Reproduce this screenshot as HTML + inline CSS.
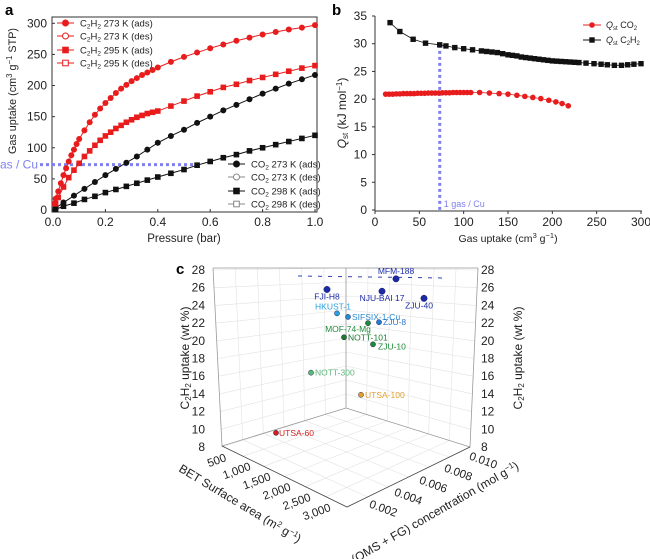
<!DOCTYPE html>
<html><head><meta charset="utf-8"><style>
body{margin:0;background:#fff;width:650px;height:559px;overflow:hidden}
svg{display:block;font-family:"Liberation Sans",sans-serif}
</style></head><body>
<svg id="fig" width="650" height="559" viewBox="0 0 650 559"></svg>
<script>
// ---------- Panel a data ----------
const aP273 = [0.005,0.01,0.02,0.03,0.04,0.05,0.06,0.07,0.08,0.09,0.10,0.12,0.14,0.16,0.18,0.20,0.22,0.24,0.26,0.28,0.30,0.32,0.34,0.36,0.38,0.40,0.45,0.5,0.55,0.6,0.65,0.7,0.75,0.8,0.85,0.9,0.95,1.0];
const aC2H2_273 = [10,18,30,43,56,67,78,88,97,106,114,128,141,153,163,172,180,188,195,201,207,212,217,221,225,229,238,246,253,260,266,272,277,282,286,290,293,297];
const aP295 = [0.01,0.02,0.04,0.06,0.08,0.10,0.12,0.14,0.16,0.18,0.20,0.22,0.24,0.26,0.28,0.30,0.32,0.34,0.36,0.38,0.40,0.45,0.5,0.55,0.6,0.65,0.7,0.75,0.8,0.85,0.9,0.95,1.0];
const aC2H2_295 = [10,20,37,52,64,75,86,95,104,112,119,125,131,136,141,145,149,152,155,157,159,167,175,183,190,197,202,208,213,218,223,228,232];
const aPco2 = [0.01,0.04,0.08,0.12,0.16,0.20,0.24,0.28,0.32,0.36,0.40,0.45,0.5,0.55,0.6,0.65,0.7,0.75,0.8,0.85,0.9,0.95,1.0];
const aCO2_273 = [3,12,23,34,45,56,66,76,86,97,108,119,129,140,150,160,169,178,187,195,203,210,217];
const aCO2_298 = [1,6,11,17,22,28,33,38,43,48,53,59,65,72,78,84,89,95,100,105,110,115,120];
const aXTicks = [0,0.2,0.4,0.6,0.8,1.0];
const aXLabels = ["0.0","0.2","0.4","0.6","0.8","1.0"];
const aYTicks = [0,50,100,150,200,250,300];
// ---------- Panel b data ----------
const bCO2x = [12,16,20,24,28,32,36,40,44,48,52,56,60,64,68,72,76,80,84,88,92,96,100,104,108,118,129,140,150,160,169,178,187,196,204,211,218];
const bCO2y = [20.9,20.9,20.9,20.95,20.95,21,21,21,21,21.05,21.05,21.05,21.1,21.1,21.1,21.1,21.15,21.15,21.15,21.2,21.2,21.2,21.2,21.2,21.2,21.2,21.1,21.0,20.9,20.7,20.5,20.3,20.1,19.8,19.5,19.2,18.8];
const bC2x = [17,28,43,57,73,80,90,100,110,120,126,132,138,144,150,155,160,165,170,175,180,185,190,195,200,205,210,215,220,225,230,238,247,255,262,270,278,285,292,300];
const bC2y = [33.8,32.2,30.8,30.1,29.8,29.6,29.3,29.1,28.9,28.7,28.6,28.5,28.4,28.2,28.0,27.9,27.8,27.6,27.5,27.4,27.3,27.2,27.1,27.0,26.9,26.85,26.8,26.75,26.7,26.65,26.6,26.5,26.4,26.3,26.2,26.1,26.1,26.2,26.3,26.4];
const bXTicks = [0,50,100,150,200,250,300];
const bYTicks = [0,5,10,15,20,25,30,35];
// ---------- Panel c data ----------
const cNames = ["MFM-188","FJI-H8","NJU-BAI 17","ZJU-40","HKUST-1","SIFSIX-1-Cu","ZJU-8","MOF-74-Mg","NOTT-101","ZJU-10","NOTT-300","UTSA-100","UTSA-60"];
const cUptake = [27.0,25.8,25.6,24.8,23.1,22.7,22.1,22.0,20.4,19.6,16.4,13.9,9.6];
const cColors = ["#1c2aa8","#1c2aa8","#1c2aa8","#1c2aa8","#2aa0e0","#2a8ad0","#2a7ad0","#1f8a3a","#1f7a30","#1f8a3a","#5cb87a","#e0a030","#d02020"];
const cScreenX = [396,327,382,424,337,348,379,368,344,373,311,361,276];
const cLeftTicks = [8,10,12,14,16,18,20,22,24,26,28];
const betL=["500","1,000","1,500","2,000","2,500","3,000"];
const omsL=["0.002","0.004","0.006","0.008","0.010"];

const NS="http://www.w3.org/2000/svg";
const svg=document.getElementById('fig');
function el(tag,attrs,parent,text){const e=document.createElementNS(NS,tag);for(const k in attrs)e.setAttribute(k,attrs[k]);if(text!==undefined)e.textContent=text;(parent||svg).appendChild(e);return e;}

// ===== Panel a =====
const ax={x0:53,x1:315,y0:210,y1:23.3};
const axX=v=>ax.x0+(ax.x1-ax.x0)*v;
const axY=v=>ax.y0+(ax.y1-ax.y0)*v/300;
const ga=el('g',{});


let t=el('text',{x:5,y:15,'font-size':15,'font-weight':'bold'},ga,'a');

let fr=el('rect',{x:52,y:17,width:265,height:195,fill:'none',stroke:'#333','stroke-width':1},ga);

aXTicks.forEach((v,i)=>{el('line',{x1:axX(v),x2:axX(v),y1:212,y2:209,stroke:'#333'},ga);
 const tx=el('text',{x:axX(v),y:226,'font-size':12,'text-anchor':'middle',fill:'#222'},ga,aXLabels[i]);
 });
aYTicks.forEach(v=>{el('line',{x1:52,x2:55,y1:axY(v),y2:axY(v),stroke:'#333'},ga);
 const tx=el('text',{x:47,y:axY(v)+4,'font-size':12,'text-anchor':'end',fill:'#222'},ga,String(v));
 });
t=el('text',{x:184,y:242,'font-size':11.5,'text-anchor':'middle',fill:'#222'},ga,'Pressure (bar)');

t=el('text',{transform:'translate(16,91) rotate(-90)','font-size':11,'text-anchor':'middle',fill:'#222',textLength:126,lengthAdjust:'spacingAndGlyphs'},ga);
t.innerHTML='Gas uptake (cm<tspan dy="-4" font-size="8">3</tspan><tspan dy="4"> g</tspan><tspan dy="-4" font-size="8">−1</tspan><tspan dy="4"> STP)</tspan>';

let bl=el('line',{x1:40,x2:axX(0.55),y1:axY(73),y2:axY(73),stroke:'#8080f0','stroke-width':3,'stroke-dasharray':'3 3'},ga);

t=el('text',{x:38,y:axY(73)+4,'font-size':12,fill:'#8080f0','text-anchor':'end'},ga,'1 gas / Cu');

function seriesA(xs,ys,color,shape,name){
 const g=el('g',{},ga);
 el('polyline',{points:xs.map((x,i)=>axX(x)+','+axY(ys[i])).join(' '),fill:'none',stroke:color,'stroke-width':1},g);
 xs.forEach((x,i)=>{const cx=axX(x),cy=axY(ys[i]);
  const m = shape==='c'?el('circle',{cx,cy,r:3,fill:color},g):el('rect',{x:cx-2.8,y:cy-2.8,width:5.6,height:5.6,fill:color},g);
  });
}
seriesA(aPco2,aCO2_298,'#111','s','co2-298k-series');
seriesA(aPco2,aCO2_273,'#111','c','co2-273k-series');
seriesA(aP295,aC2H2_295,'#e81c1c','s','c2h2-295k-series');
seriesA(aP273,aC2H2_273,'#e81c1c','c','c2h2-273k-series');
function legA(x,y,color,shape,open,html,name){
 const g=el('g',{},ga);
 el('line',{x1:x,x2:x+17,y1:y,y2:y,stroke:color},g);
 if(shape==='c')el('circle',{cx:x+8.5,cy:y,r:3,fill:open?'#fff':color,stroke:color},g);
 else el('rect',{x:x+5.7,y:y-2.8,width:5.6,height:5.6,fill:open?'#fff':color,stroke:color},g);
 const tx=el('text',{x:x+23,y:y+3.5,'font-size':9.5,fill:'#222'},g);tx.innerHTML=html;
}
const C2='C<tspan dy="2" font-size="6.5">2</tspan><tspan dy="-2">H</tspan><tspan dy="2" font-size="6.5">2</tspan><tspan dy="-2">';
legA(57,23,'#e81c1c','c',false,C2+' 273 K (ads)</tspan>','legend-c2h2-273-ads');
legA(57,36,'#e81c1c','c',true,C2+' 273 K (des)</tspan>','legend-c2h2-273-des');
legA(57,50,'#e81c1c','s',false,C2+' 295 K (ads)</tspan>','legend-c2h2-295-ads');
legA(57,63,'#e81c1c','s',true,C2+' 295 K (des)</tspan>','legend-c2h2-295-des');
const CO='CO<tspan dy="2" font-size="6.5">2</tspan><tspan dy="-2">';
legA(228,164,'#111','c',false,CO+' 273 K (ads)</tspan>','legend-co2-273-ads');
legA(228,177,'#888','c',true,CO+' 273 K (des)</tspan>','legend-co2-273-des');
legA(228,191,'#111','s',false,CO+' 298 K (ads)</tspan>','legend-co2-298-ads');
legA(228,204,'#888','s',true,CO+' 298 K (des)</tspan>','legend-co2-298-des');

// ===== Panel b =====
const bx={x0:375,x1:641,y0:210,y1:16};
const bX=v=>bx.x0+(bx.x1-bx.x0)*v/300;
const bY=v=>bx.y0+(bx.y1-bx.y0)*v/35;
const gb=el('g',{});
t=el('text',{x:332,y:15,'font-size':15,'font-weight':'bold'},gb,'b');

el('line',{x1:375,x2:375,y1:16,y2:211,stroke:'#333'},gb);
el('line',{x1:375,x2:642,y1:211,y2:211,stroke:'#333'},gb);
bXTicks.forEach(v=>{el('line',{x1:bX(v),x2:bX(v),y1:211,y2:214,stroke:'#333'},gb);
 const tx=el('text',{x:bX(v),y:226,'font-size':12,'text-anchor':'middle',fill:'#222'},gb,String(v));
 });
bYTicks.forEach(v=>{el('line',{x1:372,x2:375,y1:bY(v),y2:bY(v),stroke:'#333'},gb);
 const tx=el('text',{x:367,y:bY(v)+4,'font-size':12,'text-anchor':'end',fill:'#222'},gb,String(v));
 });
t=el('text',{x:508,y:242,'font-size':10.5,'text-anchor':'middle',fill:'#222'},gb);
t.innerHTML='Gas uptake (cm<tspan dy="-4" font-size="7.5">3</tspan><tspan dy="4"> g</tspan><tspan dy="-4" font-size="7.5">−1</tspan><tspan dy="4">)</tspan>';

t=el('text',{transform:'translate(346,113) rotate(-90)','font-size':12,'text-anchor':'middle',fill:'#222'},gb);
t.innerHTML='<tspan font-style="italic">Q</tspan><tspan dy="2" font-size="8">st</tspan><tspan dy="-2"> (kJ mol</tspan><tspan dy="-4" font-size="8">−1</tspan><tspan dy="4">)</tspan>';

bl=el('line',{x1:bX(73),x2:bX(73),y1:bY(29.8),y2:211,stroke:'#8080f0','stroke-width':3,'stroke-dasharray':'3 3'},gb);

t=el('text',{x:bX(73)+4,y:207,'font-size':9,fill:'#8080f0'},gb,'1 gas / Cu');

function seriesB(xs,ys,color,shape,name){
 const g=el('g',{},gb);
 el('polyline',{points:xs.map((x,i)=>bX(x)+','+bY(ys[i])).join(' '),fill:'none',stroke:color,'stroke-width':0.8},g);
 xs.forEach((x,i)=>{const cx=bX(x),cy=bY(ys[i]);
  const m=shape==='c'?el('circle',{cx,cy,r:2.8,fill:color},g):el('rect',{x:cx-2.7,y:cy-2.7,width:5.4,height:5.4,fill:color},g);
  });
}
seriesB(bC2x,bC2y,'#111','s','qst-c2h2-series');
seriesB(bCO2x,bCO2y,'#e81c1c','c','qst-co2-series');
let lg=el('g',{},gb);
el('line',{x1:583,x2:601,y1:25,y2:25,stroke:'#e81c1c'},lg);el('circle',{cx:592,cy:25,r:2.8,fill:'#e81c1c'},lg);
t=el('text',{x:606,y:28,'font-size':9,fill:'#222'},lg);t.innerHTML='<tspan font-style="italic">Q</tspan><tspan dy="2" font-size="6">st</tspan><tspan dy="-2"> CO</tspan><tspan dy="2" font-size="6">2</tspan>';
lg=el('g',{},gb);
el('line',{x1:583,x2:601,y1:40,y2:40,stroke:'#111'},lg);el('rect',{x:589.3,y:37.3,width:5.4,height:5.4,fill:'#111'},lg);
t=el('text',{x:606,y:43,'font-size':9,fill:'#222'},lg);t.innerHTML='<tspan font-style="italic">Q</tspan><tspan dy="2" font-size="6">st</tspan><tspan dy="-2"> C</tspan><tspan dy="2" font-size="6">2</tspan><tspan dy="-2">H</tspan><tspan dy="2" font-size="6">2</tspan>';

// ===== Panel c =====
const gc=el('g',{});
t=el('text',{x:176,y:274,'font-size':15,'font-weight':'bold'},gc,'c');

const cY=v=>447+(270-447)*(v-8)/20;
const cYb=v=>408+(268-408)*(v-8)/20;
const cYr=v=>447+(270-447)*(v-8)/20;
const grid=el('g',{stroke:'#e2e2e2','stroke-width':0.6,fill:'none'},gc);

cLeftTicks.forEach(v=>{
 el('polyline',{points:`${213+9*(1-(v-8)/20)},${cY(v)} 346,${cYb(v)} ${478-8*(1-(v-8)/20)},${cYr(v)}`},grid);
});
for(let i=1;i<6;i++){const f=i/6;
 el('line',{x1:213+(346-213)*f,y1:268,x2:222+(346-222)*f,y2:446+(408-446)*f},grid);
 el('line',{x1:346+(478-346)*f,y1:268,x2:346+(470-346)*f,y2:408+(447-408)*f},grid);
 el('line',{x1:222+(346-222)*f,y1:446+(408-446)*f,x2:347+(470-347)*f,y2:507+(447-507)*f},grid);
 el('line',{x1:346+(470-346)*f,y1:408+(447-408)*f,x2:222+(347-222)*f,y2:446+(507-446)*f},grid);
}
const box=el('g',{stroke:'#999','stroke-width':0.8,fill:'none'},gc);

el('polyline',{points:'213,268 478,268'},box);
el('line',{x1:346,y1:268,x2:346,y2:408},box);
el('polyline',{points:'213,268 222,446 346,408 470,447 478,268'},box);
el('polyline',{points:'222,446 347,507 470,447',stroke:'#444'},box);
el('line',{x1:298,y1:276,x2:445,y2:278,stroke:'#3040b0','stroke-width':1,'stroke-dasharray':'4 6'},gc);
cLeftTicks.forEach(v=>{
 let a=el('text',{x:205,y:cY(v)+4,'font-size':12,'text-anchor':'end',fill:'#222'},gc,String(v));
 
 a=el('text',{x:481,y:cYr(v)+4,'font-size':12,fill:'#222'},gc,String(v));
 
});
const C2H2u='C<tspan dy="2" font-size="8">2</tspan><tspan dy="-2">H</tspan><tspan dy="2" font-size="8">2</tspan><tspan dy="-2"> uptake (wt %)</tspan>';
t=el('text',{transform:'translate(189,358) rotate(-90)','font-size':12,'text-anchor':'middle',fill:'#222'},gc);t.innerHTML=C2H2u;

t=el('text',{transform:'translate(522,358) rotate(-90)','font-size':12,'text-anchor':'middle',fill:'#222'},gc);t.innerHTML=C2H2u;

betL.forEach((s,i)=>{const x=218+i*20,y=464+i*10.3;
 const a=el('text',{transform:`translate(${x},${y}) rotate(-20)`,'font-size':11.5,'text-anchor':'middle',fill:'#222'},gc,s);
 });
t=el('text',{transform:'translate(238,507) rotate(31)','font-size':12,'text-anchor':'middle',fill:'#222'},gc);
t.innerHTML='BET Surface area (m<tspan dy="-4" font-size="8">2</tspan><tspan dy="4"> g</tspan><tspan dy="-4" font-size="8">−1</tspan><tspan dy="4">)</tspan>';

omsL.forEach((s,i)=>{const x=382+i*25,y=512-i*12;
 const a=el('text',{transform:`translate(${x},${y}) rotate(20)`,'font-size':11.5,'text-anchor':'middle',fill:'#222'},gc,s);
 });
t=el('text',{transform:'translate(437,516) rotate(-30)','font-size':12,'text-anchor':'middle',fill:'#222'},gc);
t.innerHTML='(OMS + FG) concentration (mol g<tspan dy="-4" font-size="8">−1</tspan><tspan dy="4">)</tspan>';

const labelOff=[[0,-5,'middle'],[0,10,'middle'],[0,10,'middle'],[-5,10,'middle'],[-4,-4,'middle'],[4,3,'start'],[4,3,'start'],[-20,9,'middle'],[4,3,'start'],[5,5,'start'],[4,3,'start'],[4,3,'start'],[3,3,'start']];
cNames.forEach((n,i)=>{
 const g=el('g',{},gc);
 
 
 const x=cScreenX[i], y=cY(cUptake[i]);
 el('circle',{cx:x,cy:y,r:i<4?3.2:2.6,fill:cColors[i],stroke:'#0a0a40','stroke-width':0.4},g);
 const o=labelOff[i];
 el('text',{x:x+o[0],y:y+o[1],'font-size':8.5,'text-anchor':o[2],fill:cColors[i]},g,n);
});
</script>
</body></html>
